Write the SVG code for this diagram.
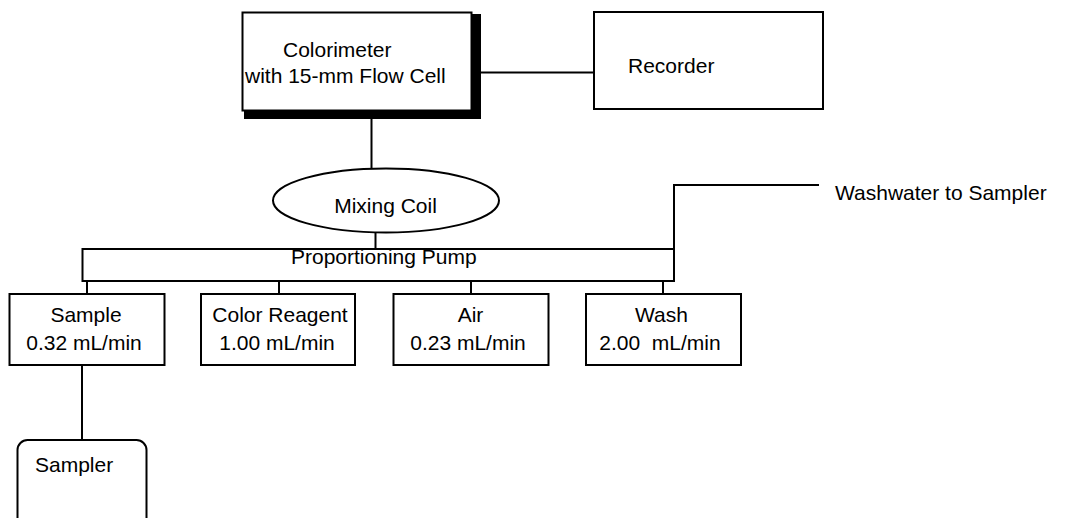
<svg xmlns="http://www.w3.org/2000/svg" width="1065" height="518" viewBox="0 0 1065 518">
<style>
.box{fill:#fff;stroke:#000;stroke-width:2}
.ln{fill:none;stroke:#000;stroke-width:2}
text{font-family:"Liberation Sans",Arial,sans-serif;font-size:21px;fill:#000}
.c{text-anchor:middle}
</style>
<rect width="1065" height="518" fill="#fff"/>
<g id="connectors">
<line class="ln" x1="466" y1="72.5" x2="594" y2="72.5"/>
<line class="ln" x1="371.5" y1="105" x2="371.5" y2="169"/>
<line class="ln" x1="375.5" y1="232" x2="375.5" y2="249"/>
<polyline class="ln" points="674,249 674,185 819,185"/>
<line class="ln" x1="87" y1="281" x2="87" y2="294"/>
<line class="ln" x1="279" y1="281" x2="279" y2="294"/>
<line class="ln" x1="471" y1="281" x2="471" y2="294"/>
<line class="ln" x1="663" y1="281" x2="663" y2="294"/>
<line class="ln" x1="82" y1="360" x2="82" y2="440"/>
</g>
<g id="colorimeter">
<rect x="244" y="14" width="237" height="105" fill="#000"/>
<rect class="box" x="242.5" y="12.5" width="229" height="98"/>
<text x="283" y="57">Colorimeter</text>
<text x="245" y="83">with 15-mm Flow Cell</text>
</g>
<g id="recorder">
<rect class="box" x="594" y="12" width="229" height="97"/>
<text x="628" y="73">Recorder</text>
</g>
<g id="mixing-coil">
<ellipse class="box" cx="386" cy="200.5" rx="113" ry="32"/>
<text class="c" x="385.5" y="213">Mixing Coil</text>
</g>
<g id="pump">
<rect class="box" x="82.5" y="249" width="591.5" height="32"/>
<text x="291" y="264">Proportioning Pump</text>
</g>
<g id="washwater">
<text x="835" y="200">Washwater to Sampler</text>
</g>
<g id="sample">
<rect class="box" x="9.5" y="294" width="155" height="71"/>
<text class="c" x="86" y="322">Sample</text>
<text class="c" x="84" y="350">0.32 mL/min</text>
</g>
<g id="color-reagent">
<rect class="box" x="201" y="294" width="154" height="71"/>
<text class="c" x="280" y="322">Color Reagent</text>
<text class="c" x="277" y="350">1.00 mL/min</text>
</g>
<g id="air">
<rect class="box" x="393.5" y="294" width="155" height="71"/>
<text class="c" x="470.5" y="322">Air</text>
<text class="c" x="468" y="350">0.23 mL/min</text>
</g>
<g id="wash">
<rect class="box" x="586" y="294" width="155" height="71"/>
<text class="c" x="661.5" y="322">Wash</text>
<text class="c" x="660" y="350" xml:space="preserve">2.00  mL/min</text>
</g>
<g id="sampler">
<rect class="box" x="17.5" y="440" width="129" height="100" rx="10" ry="10"/>
<text x="35" y="472">Sampler</text>
</g>
</svg>
